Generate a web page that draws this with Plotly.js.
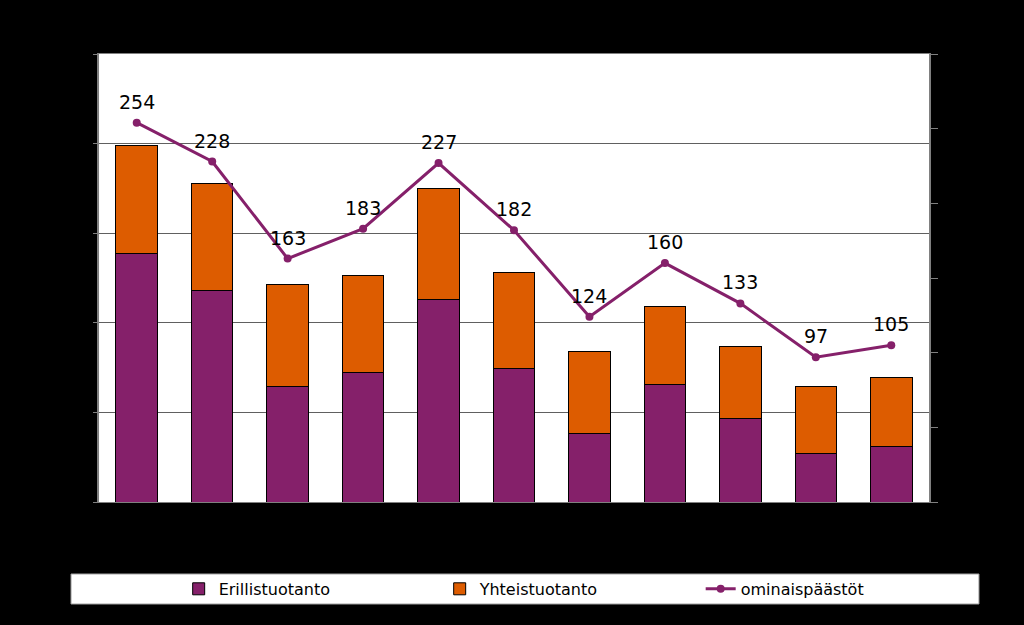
<!DOCTYPE html>
<html>
<head>
<meta charset="utf-8">
<script src="https://cdn.plot.ly/plotly-3.0.1.min.js"></script>
<style>html,body{margin:0;padding:0;background:#000;}#chart{width:1024px;height:625px;}</style>
</head>
<body>
<div id="chart"></div>
<script>
// Categories (axis labels are not legible in the reference; black on black)
var categories = ['1','2','3','4','5','6','7','8','9','10','11'];
var erillistuotanto = [2.77, 2.36, 1.29, 1.44, 2.26, 1.49, 0.76, 1.31, 0.93, 0.54, 0.62];
var yhteistuotanto = [1.21, 1.19, 1.14, 1.09, 1.24, 1.07, 0.92, 0.87, 0.80, 0.75, 0.77];
var ominaispaastot = [254, 228, 163, 183, 227, 182, 124, 160, 133, 97, 105];
var seriesNames = ['Erillistuotanto', 'Yhteistuotanto', 'ominaispäästöt'];

var purple = '#85206A';
var orange = '#DD5C00';
var font = 'DejaVu Sans, Verdana, sans-serif';

var traces = [
  {type:'bar', name:seriesNames[0], x:categories, y:erillistuotanto,
   marker:{color:purple, line:{color:'#000', width:1}}, hoverinfo:'skip'},
  {type:'bar', name:seriesNames[1], x:categories, y:yhteistuotanto,
   marker:{color:orange, line:{color:'#000', width:1}}, hoverinfo:'skip'},
  {type:'scatter', mode:'lines+markers', name:seriesNames[2], x:categories, y:ominaispaastot,
   yaxis:'y2', line:{color:purple, width:3}, marker:{color:purple, size:8}, hoverinfo:'skip'}
];

// value labels above the line points (x given as the category's index on the category axis)
var annotations = ominaispaastot.map(function(v, i){
  return {x:categories.indexOf(categories[i]), y:v, xref:'x', yref:'y2', text:String(v), showarrow:false,
          yanchor:'bottom', yshift:8, font:{family:font, size:19, color:'#000'}};
});

var layout = {
  width:1024, height:625,
  paper_bgcolor:'#000', plot_bgcolor:'#fff',
  margin:{l:99, r:95, t:54, b:123},
  barmode:'stack', bargap:0.45,
  font:{family:font, color:'#000'},
  showlegend:true,
  legend:{orientation:'h', x:0.096, xanchor:'left', y:-0.194, yanchor:'middle',
          bgcolor:'rgba(0,0,0,0)', borderwidth:0,
          font:{family:font, size:16, color:'#000'},
          entrywidth:216, entrywidthmode:'pixels', traceorder:'normal'},
  xaxis:{type:'category', range:[-0.5, 10.5], showticklabels:false, ticks:'', showgrid:false,
         showline:true, linecolor:'#808080', linewidth:1, mirror:true, zeroline:false},
  yaxis:{range:[0,5], dtick:1, showticklabels:false, ticks:'outside', ticklen:4,
         tickcolor:'#808080', showgrid:true, gridcolor:'#606060', gridwidth:1,
         showline:true, linecolor:'#808080', linewidth:2, zeroline:false},
  yaxis2:{overlaying:'y', side:'right', range:[0,300], dtick:50, showticklabels:false,
          ticks:'outside', ticklen:7, tickcolor:'#808080', showgrid:false,
          showline:true, linecolor:'#808080', linewidth:2, zeroline:false},
  annotations:annotations,
  shapes:[{type:'rect', xref:'paper', yref:'paper', x0:-0.0337, x1:1.0602, y0:-0.2277, y1:-0.1607,
           fillcolor:'#fff', line:{color:'#a0a0a0', width:1}, layer:'below'}]
};

Plotly.newPlot('chart', traces, layout, {staticPlot:true});
</script>
</body>
</html>
